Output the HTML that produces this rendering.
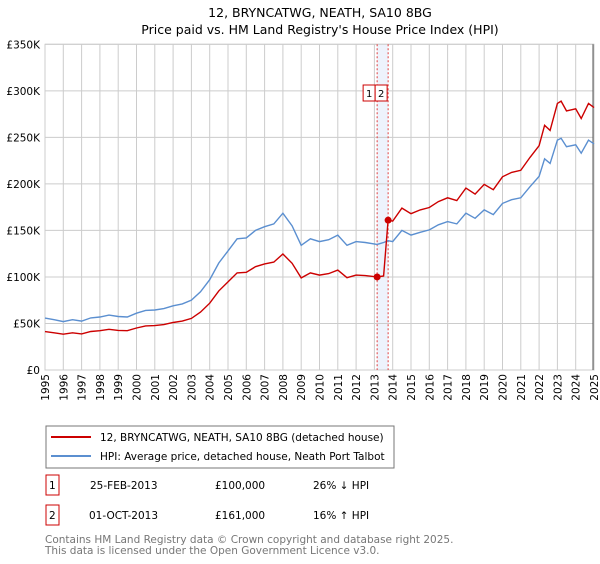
<!DOCTYPE html>
<html><head><meta charset="utf-8"><style>
body{margin:0;background:#fff;font-family:"DejaVu Sans","Liberation Sans",sans-serif;}
svg text{font-family:"DejaVu Sans","Liberation Sans",sans-serif;}
</style></head><body>
<svg id="chart" width="600" height="560" xmlns="http://www.w3.org/2000/svg">
<text x="320" y="17" font-size="12.5" text-anchor="middle">12, BRYNCATWG, NEATH, SA10 8BG</text>
<text x="320" y="34" font-size="12.5" text-anchor="middle">Price paid vs. HM Land Registry's House Price Index (HPI)</text>
<g id="grid"></g><g id="axes"></g><g id="series"></g>
<g>
<rect x="46" y="426" width="348" height="42" fill="#fff" stroke="#777"/>
<line x1="51" y1="437" x2="91" y2="437" stroke="#cc0000" stroke-width="2"/>
<text x="100" y="441" font-size="10.5">12, BRYNCATWG, NEATH, SA10 8BG (detached house)</text>
<line x1="51" y1="456" x2="91" y2="456" stroke="#5b8fd0" stroke-width="2"/>
<text x="100" y="460" font-size="10.5">HPI: Average price, detached house, Neath Port Talbot</text>
</g>
<g font-size="10.5">
<rect x="46" y="475" width="13" height="20" fill="none" stroke="#cc0000"/>
<text x="49" y="489">1</text><text x="90" y="489">25-FEB-2013</text><text x="215" y="489">£100,000</text><text x="313" y="489">26% ↓ HPI</text>
<rect x="46" y="505" width="13" height="20" fill="none" stroke="#cc0000"/>
<text x="49" y="519">2</text><text x="89" y="519">01-OCT-2013</text><text x="215" y="519">£161,000</text><text x="313" y="519">16% ↑ HPI</text>
</g>
<text x="45" y="543" font-size="10.5" fill="#777">Contains HM Land Registry data © Crown copyright and database right 2025.</text>
<text x="45" y="554" font-size="10.5" fill="#777">This data is licensed under the Open Government Licence v3.0.</text>
</svg>
<script>
const dates=[1995,1995.5,1996,1996.5,1997,1997.5,1998,1998.5,1999,1999.5,2000,2000.5,2001,2001.5,2002,2002.5,2003,2003.5,2004,2004.5,2005,2005.5,2006,2006.5,2007,2007.5,2008,2008.5,2009,2009.5,2010,2010.5,2011,2011.5,2012,2012.5,2013.15,2013.5,2013.75,2014,2014.5,2015,2015.5,2016,2016.5,2017,2017.5,2018,2018.5,2019,2019.5,2020,2020.5,2021,2021.5,2022,2022.3,2022.6,2023,2023.2,2023.5,2024,2024.3,2024.7,2025];
const hpiValues=[55.8,54,52,54,52.5,56,57,59,57.5,57,61,64,64.5,66,69,71,75,84,97,115,128,141,142,150,154,157,168.5,155,134,141,138,140,145,134,138,137,135,137,139,138,150,145,148,150.5,156,159.5,157,168.5,163,172,167,179,183,185,197,208,227,222,247,249,240,242,233,247,243];
const priceValues=[41.3,40,38.5,40,38.8,41.4,42.2,43.7,42.6,42.2,45.1,47.4,47.7,48.8,51,52.5,55.5,62.2,71.8,85,94.7,104.3,105,111,114,116,124.7,114.7,99,104.3,102,103.6,107.3,99.2,102,101.4,100,101,161,160,174,168,172,174.6,181,185,182,195.5,189,199.5,193.7,207.6,212.3,214.6,228.5,241,263,257.5,286.5,289,278.4,280.7,270.3,286.5,282];
const yTicks=[0,50,100,150,200,250,300,350];
const yTickLabels=["£0","£50K","£100K","£150K","£200K","£250K","£300K","£350K"];
const years=[1995,1996,1997,1998,1999,2000,2001,2002,2003,2004,2005,2006,2007,2008,2009,2010,2011,2012,2013,2014,2015,2016,2017,2018,2019,2020,2021,2022,2023,2024,2025];
const saleDates=[2013.15,2013.75];
const salePrices=[100,161];
const saleLabels=["1","2"];
const NS="http://www.w3.org/2000/svg";
const X0=45,X1=594,Y0=370,Y1=44.3;
const xs=d=>X0+(d-1995)/30*(X1-X0);
const ys=v=>Y0-v/350*(Y0-Y1);
function mk(tag,attrs,parent){const e=document.createElementNS(NS,tag);for(const k in attrs)e.setAttribute(k,attrs[k]);parent.appendChild(e);return e;}
const grid=document.getElementById('grid'),axes=document.getElementById('axes'),ser=document.getElementById('series');
mk('rect',{x:X0,y:Y1,width:X1-X0,height:Y0-Y1,fill:'#fff',stroke:'#ccc'},grid);
// highlight band
const band=mk('rect',{x:xs(saleDates[0]),y:Y1,width:xs(saleDates[1])-xs(saleDates[0]),height:Y0-Y1,fill:'#eef3fc'},grid);


years.forEach(y=>{
 const l=mk('line',{x1:xs(y),x2:xs(y),y1:Y1,y2:Y0,stroke:'#cccccc'},grid);
 
 
 const t=mk('text',{x:0,y:0,'font-size':'10.5','text-anchor':'end',transform:`translate(${xs(y)+4},${Y0+4}) rotate(-90)`},axes);
 t.textContent=y;
 
 
});
yTicks.forEach((v,i)=>{
 const l=mk('line',{x1:X0,x2:X1,y1:ys(v),y2:ys(v),stroke:'#cccccc'},grid);
 
 
 const t=mk('text',{x:X0-5,y:ys(v)+4,'font-size':'10.5','text-anchor':'end'},axes);
 t.textContent=yTickLabels[i];
 
 
});
const edge=mk('line',{x1:X1-1,x2:X1-1,y1:Y1,y2:Y0,stroke:'#555','stroke-width':1},grid);


saleDates.forEach((d,i)=>{
 const l=mk('line',{x1:xs(d),x2:xs(d),y1:Y1,y2:Y0,stroke:'#e04040','stroke-dasharray':'2,2'},grid);
 
 
});
function path(vals){return vals.map((v,i)=>(i?'L':'M')+xs(dates[i]).toFixed(1)+','+ys(v).toFixed(1)).join('');}
const hp=mk('path',{d:path(hpiValues),fill:'none',stroke:'#5b8fd0','stroke-width':1.4},ser);


const pp=mk('path',{d:path(priceValues),fill:'none',stroke:'#cc0000','stroke-width':1.4},ser);


saleDates.forEach((d,i)=>{
 const c=mk('circle',{cx:xs(d),cy:ys(salePrices[i]),r:3.5,fill:'#cc0000'},ser);
 
 
 const bx=i===0?xs(d)-11:xs(d)-12+ (xs(saleDates[1])-xs(saleDates[0]) < 12 ? 0 : 0);
 const left=i===0?xs(saleDates[1])-25:xs(saleDates[1])-13;
 const r=mk('rect',{x:left,y:85,width:12,height:16,fill:'#fff',stroke:'#cc0000'},ser);
 
 
 const t=mk('text',{x:left+6,y:97,'font-size':'10','text-anchor':'middle'},ser);
 t.textContent=saleLabels[i];
 
 
});
</script>
</body></html>
